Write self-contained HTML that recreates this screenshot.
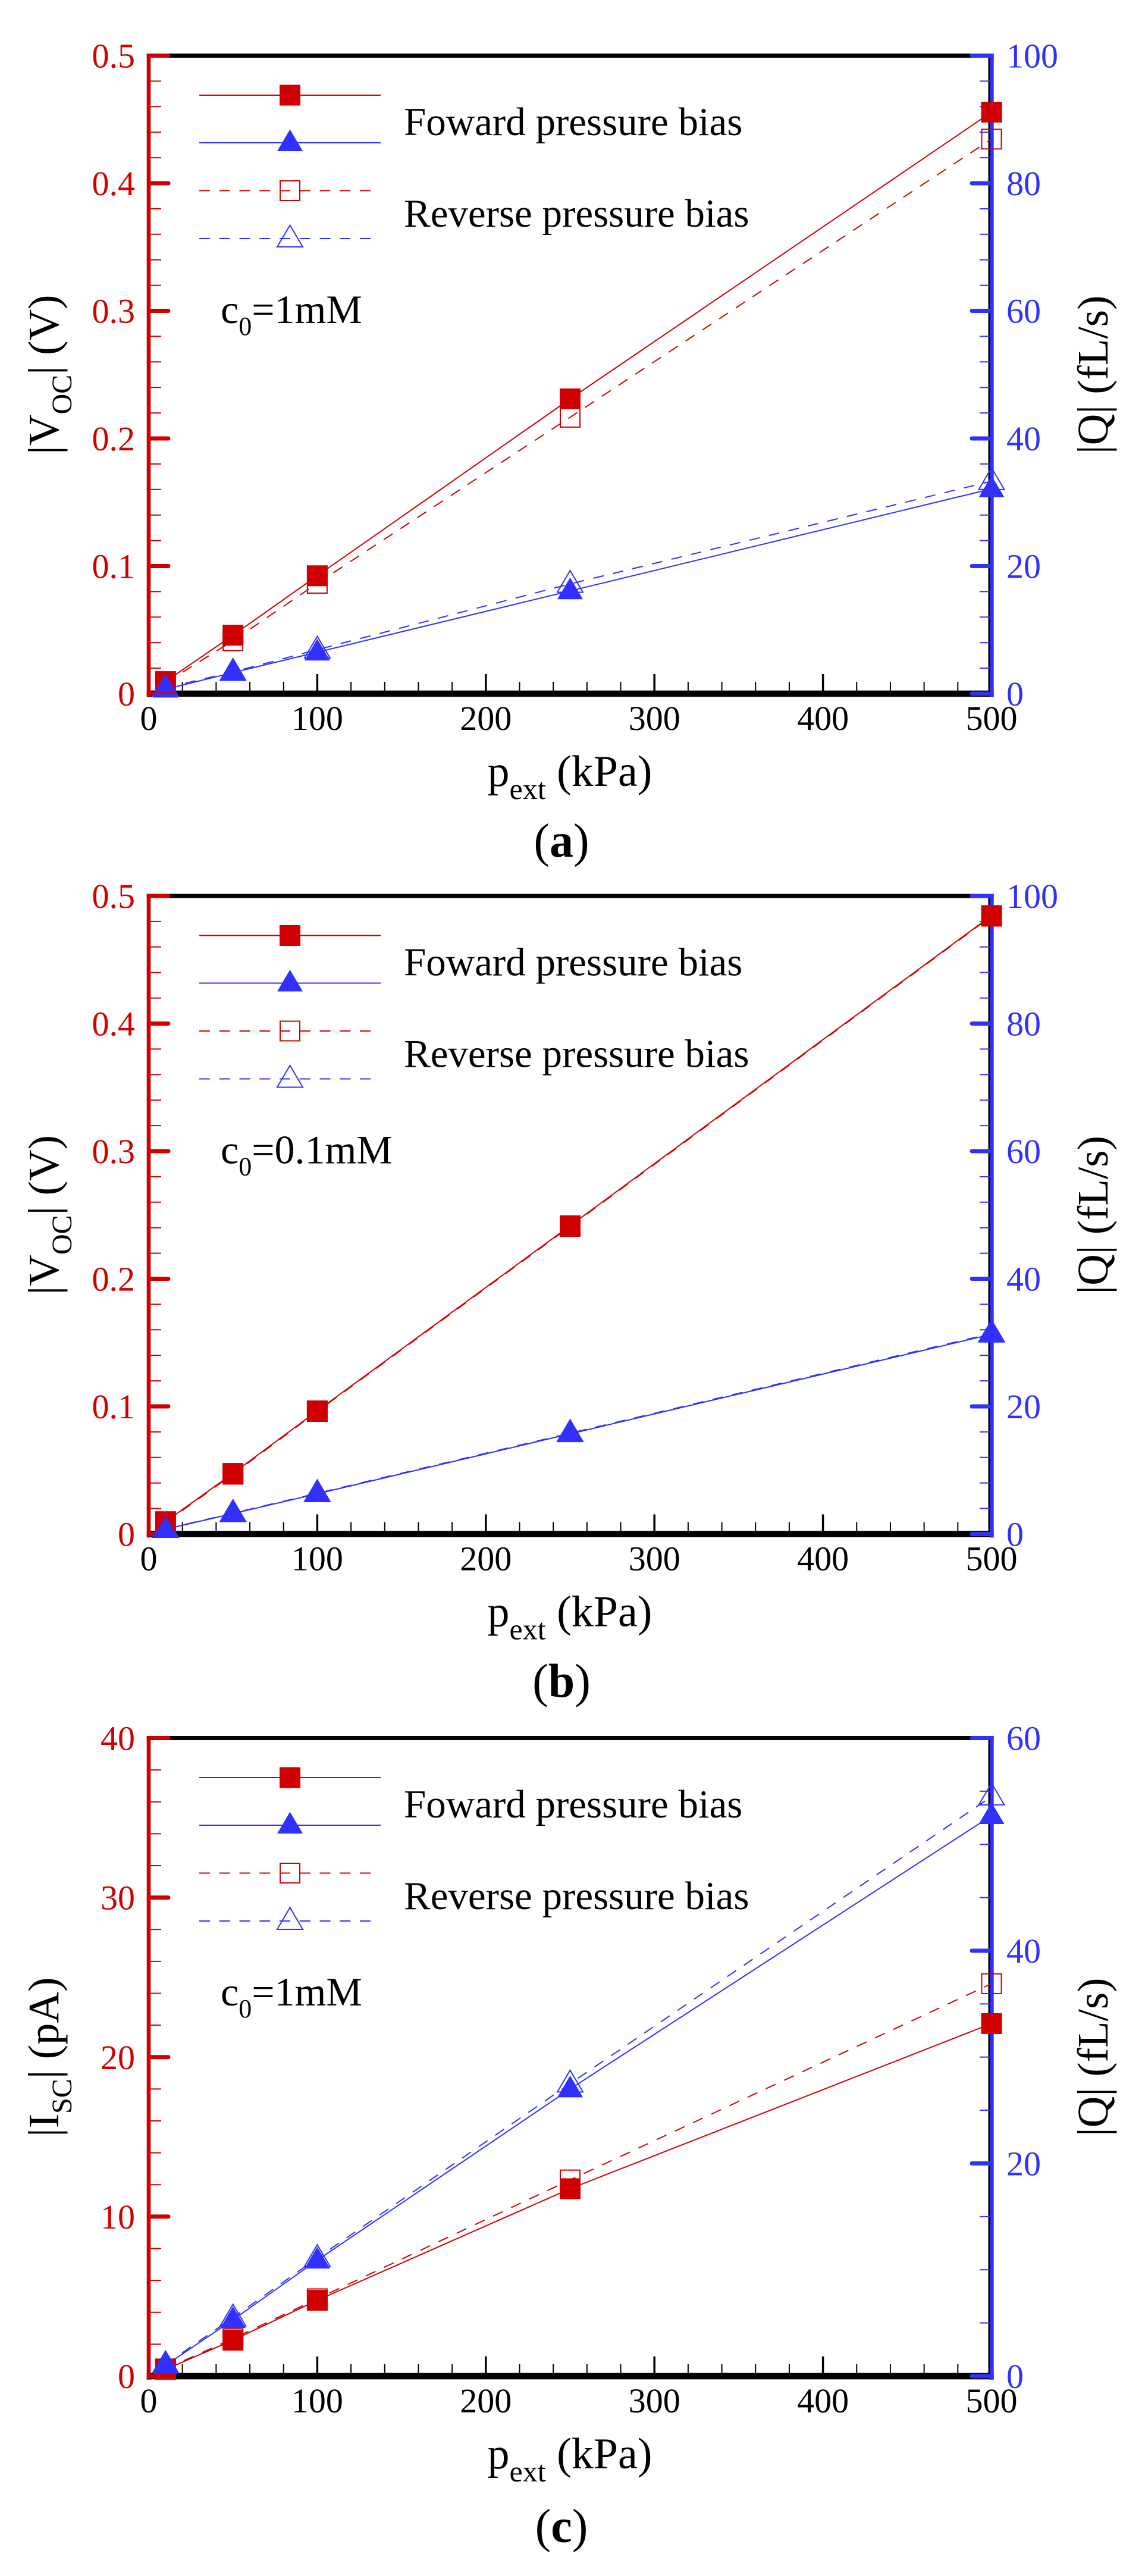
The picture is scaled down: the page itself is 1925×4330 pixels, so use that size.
<!DOCTYPE html>
<html><head><meta charset="utf-8"><style>
html,body{margin:0;padding:0;background:#fff;}
svg{display:block;}
text,tspan{font-family:"Liberation Serif","Times New Roman",serif;}
</style></head><body>
<svg xmlns="http://www.w3.org/2000/svg" width="1925" height="4330" viewBox="0 0 1925 4330" font-family="Liberation Serif, serif">
<defs>
<rect id="sqf" x="-17.5" y="-17.5" width="35" height="35" fill="#d00000"/>
<rect id="sqo" x="-16.5" y="-16.5" width="33" height="33" fill="none" stroke="#d00000" stroke-width="2"/>
<path id="trf" d="M0,-22.5 L21.5,14 L-21.5,14Z" fill="#3030ff"/>
<path id="tro" d="M0,-22.5 L21.5,14 L-21.5,14Z" fill="none" stroke="#3030ff" stroke-width="2"/>
<g id="frame">
<rect x="246.7" y="90" width="1424" height="7" fill="#000"/>
<rect x="246.7" y="1160.7" width="1424" height="10.7" fill="#000"/>
<rect x="1661.5" y="90" width="3" height="1081" fill="#000"/>
<line x1="249" y1="1153.5" x2="1669" y2="1153.5" stroke="#000" stroke-width="15" stroke-dasharray="2 54.68"/>
<path d="M533.4 1161V1133M816.8 1161V1133M1100.2 1161V1133M1383.6 1161V1133" stroke="#000" stroke-width="3.5"/>
<line x1="335" y1="160" x2="640" y2="160" stroke="#d00000" stroke-width="2"/>
<line x1="335" y1="240" x2="640" y2="240" stroke="#3030ff" stroke-width="2"/>
<line x1="335" y1="320.5" x2="623" y2="320.5" stroke="#d00000" stroke-width="2" stroke-dasharray="18 15.75"/>
<line x1="335" y1="401" x2="623" y2="401" stroke="#3030ff" stroke-width="2" stroke-dasharray="18 15.75"/>
<use href="#sqf" x="487.5" y="160"/>
<use href="#trf" x="487.5" y="240"/>
<use href="#sqo" x="487.5" y="320.5"/>
<use href="#tro" x="487.5" y="401"/>
</g>
<g id="axAB">
<line x1="262" y1="92.5" x2="262" y2="1167.5" stroke="#d00000" stroke-width="18" stroke-dasharray="2 40.9"/>
<path d="M253 93.5H283M253 308H283M253 522.5H283M253 737H283M253 951.5H283M253 1166H283" stroke="#d00000" stroke-width="7" stroke-linecap="round"/>
<rect x="246.7" y="90" width="6.6" height="1082" fill="#d00000"/>
<line x1="1655.5" y1="92.5" x2="1655.5" y2="1167.5" stroke="#3030ff" stroke-width="17" stroke-dasharray="2 40.9"/>
<path d="M1664 93.5H1634M1664 308H1634M1664 522.5H1634M1664 737H1634M1664 951.5H1634M1664 1166H1634" stroke="#3030ff" stroke-width="7" stroke-linecap="round"/>
<rect x="1664.3" y="90" width="6.4" height="1082" fill="#3030ff"/>
</g>
</defs>

<!-- Panel a -->
<g>
<use href="#frame"/>
<use href="#axAB"/>
<g font-size="58" text-anchor="middle" fill="#000">
<text x="250" y="1227">0</text><text x="533.4" y="1227">100</text><text x="816.8" y="1227">200</text><text x="1100.2" y="1227">300</text><text x="1383.6" y="1227">400</text><text x="1667" y="1227">500</text>
</g>
<text x="958" y="1321" text-anchor="middle" font-size="74">p<tspan font-size="50" dy="22">ext</tspan><tspan dy="-22"> (kPa)</tspan></text>
<text transform="translate(1862,629.75) rotate(-90)" text-anchor="middle" font-size="73">|Q| (fL/s)</text>
<text x="679" y="227" font-size="67">Foward pressure bias</text>
<text x="679" y="381" font-size="67">Reverse pressure bias</text>
<g font-size="58" fill="#d00000" text-anchor="end">
<text x="227" y="113.5">0.5</text><text x="227" y="328">0.4</text><text x="227" y="542.5">0.3</text><text x="227" y="757">0.2</text><text x="227" y="971.5">0.1</text><text x="227" y="1186">0</text>
</g>
<g font-size="58" fill="#3030ff">
<text x="1692" y="113.5">100</text><text x="1692" y="328">80</text><text x="1692" y="542.5">60</text><text x="1692" y="757">40</text><text x="1692" y="971.5">20</text><text x="1692" y="1186">0</text>
</g>
<text transform="translate(98,629.75) rotate(-90)" text-anchor="middle" font-size="73">|V<tspan font-size="48" dy="22">OC</tspan><tspan dy="-22">| (V)</tspan></text>
<polyline points="278.3,1145.6 391.7,1067.8 533.4,967.8 958.5,670.5 1667,188.5" fill="none" stroke="#d00000" stroke-width="2"/>
<polyline points="278.3,1147.8 391.7,1077 533.4,980.5 958.5,701.4 1667,233.8" fill="none" stroke="#d00000" stroke-width="2" stroke-dasharray="18 15.75"/>
<polyline points="278.3,1158.5 391.7,1130.6 533.4,1096.3 958.5,993.3 1667,821.7" fill="none" stroke="#3030ff" stroke-width="2"/>
<polyline points="278.3,1156.3 391.7,1129.5 533.4,1092 958.5,981.5 1667,808.9" fill="none" stroke="#3030ff" stroke-width="2" stroke-dasharray="18 15.75"/>
<use href="#sqf" x="278.3" y="1145.6"/><use href="#sqf" x="391.7" y="1067.8"/><use href="#sqf" x="533.4" y="967.8"/><use href="#sqf" x="958.5" y="670.5"/><use href="#sqf" x="1667" y="188.5"/>
<use href="#trf" x="278.3" y="1158.5"/><use href="#trf" x="391.7" y="1130.6"/><use href="#trf" x="533.4" y="1096.3"/><use href="#trf" x="958.5" y="993.3"/><use href="#trf" x="1667" y="821.7"/>
<use href="#sqo" x="278.3" y="1147.8"/><use href="#sqo" x="391.7" y="1077"/><use href="#sqo" x="533.4" y="980.5"/><use href="#sqo" x="958.5" y="701.4"/><use href="#sqo" x="1667" y="233.8"/>
<use href="#tro" x="278.3" y="1156.3"/><use href="#tro" x="391.7" y="1129.5"/><use href="#tro" x="533.4" y="1092"/><use href="#tro" x="958.5" y="981.5"/><use href="#tro" x="1667" y="808.9"/>
<text x="371" y="543" font-size="68">c<tspan font-size="44" dy="20">0</tspan><tspan dy="-20">=1mM</tspan></text>
<text x="944" y="1440" text-anchor="middle" font-size="80">(<tspan font-weight="bold">a</tspan>)</text>
</g>

<!-- Panel b -->
<g transform="translate(0,1412.5)">
<use href="#frame"/>
<use href="#axAB"/>
<g font-size="58" text-anchor="middle" fill="#000">
<text x="250" y="1227">0</text><text x="533.4" y="1227">100</text><text x="816.8" y="1227">200</text><text x="1100.2" y="1227">300</text><text x="1383.6" y="1227">400</text><text x="1667" y="1227">500</text>
</g>
<text x="958" y="1321" text-anchor="middle" font-size="74">p<tspan font-size="50" dy="22">ext</tspan><tspan dy="-22"> (kPa)</tspan></text>
<text transform="translate(1862,629.75) rotate(-90)" text-anchor="middle" font-size="73">|Q| (fL/s)</text>
<text x="679" y="227" font-size="67">Foward pressure bias</text>
<text x="679" y="381" font-size="67">Reverse pressure bias</text>
<g font-size="58" fill="#d00000" text-anchor="end">
<text x="227" y="113.5">0.5</text><text x="227" y="328">0.4</text><text x="227" y="542.5">0.3</text><text x="227" y="757">0.2</text><text x="227" y="971.5">0.1</text><text x="227" y="1186">0</text>
</g>
<g font-size="58" fill="#3030ff">
<text x="1692" y="113.5">100</text><text x="1692" y="328">80</text><text x="1692" y="542.5">60</text><text x="1692" y="757">40</text><text x="1692" y="971.5">20</text><text x="1692" y="1186">0</text>
</g>
<text transform="translate(98,629.75) rotate(-90)" text-anchor="middle" font-size="73">|V<tspan font-size="48" dy="22">OC</tspan><tspan dy="-22">| (V)</tspan></text>
<polyline points="278.3,1145.2 391.7,1064.1 533.4,959 958.5,647.8 1667,126.5" fill="none" stroke="#d00000" stroke-width="2"/>
<polyline points="278.3,1146.5 391.7,1065.5 533.4,960 958.5,649 1667,127.5" fill="none" stroke="#d00000" stroke-width="2" stroke-dasharray="18 15.75"/>
<polyline points="278.3,1158 391.7,1131.7 533.4,1098.4 958.5,997.6 1667,830.3" fill="none" stroke="#3030ff" stroke-width="2"/>
<polyline points="278.3,1157.5 391.7,1131 533.4,1097.5 958.5,996.5 1667,829" fill="none" stroke="#3030ff" stroke-width="2" stroke-dasharray="18 15.75"/>
<use href="#sqo" x="278.3" y="1146.5"/><use href="#sqo" x="391.7" y="1065.5"/><use href="#sqo" x="533.4" y="960"/><use href="#sqo" x="958.5" y="649"/><use href="#sqo" x="1667" y="127.5"/>
<use href="#tro" x="278.3" y="1157.5"/><use href="#tro" x="391.7" y="1131"/><use href="#tro" x="533.4" y="1097.5"/><use href="#tro" x="958.5" y="996.5"/><use href="#tro" x="1667" y="829"/>
<use href="#sqf" x="278.3" y="1145.2"/><use href="#sqf" x="391.7" y="1064.1"/><use href="#sqf" x="533.4" y="959"/><use href="#sqf" x="958.5" y="647.8"/><use href="#sqf" x="1667" y="126.5"/>
<use href="#trf" x="278.3" y="1158"/><use href="#trf" x="391.7" y="1131.7"/><use href="#trf" x="533.4" y="1098.4"/><use href="#trf" x="958.5" y="997.6"/><use href="#trf" x="1667" y="830.3"/>
<text x="371" y="543" font-size="68">c<tspan font-size="44" dy="20">0</tspan><tspan dy="-20">=0.1mM</tspan></text>
<text x="944" y="1440" text-anchor="middle" font-size="80">(<tspan font-weight="bold">b</tspan>)</text>
</g>

<!-- Panel c -->
<g transform="translate(0,2828)">
<use href="#frame"/>
<line x1="262" y1="92.5" x2="262" y2="1167.5" stroke="#d00000" stroke-width="18" stroke-dasharray="2 51.625"/>
<path d="M253 93.5H283M253 361.6H283M253 629.75H283M253 897.9H283M253 1166H283" stroke="#d00000" stroke-width="7" stroke-linecap="round"/>
<rect x="246.7" y="90" width="6.6" height="1082" fill="#d00000"/>
<line x1="1655.5" y1="92.5" x2="1655.5" y2="1167.5" stroke="#3030ff" stroke-width="17" stroke-dasharray="2 87.375"/>
<path d="M1664 93.5H1634M1664 451H1634M1664 808.5H1634M1664 1166H1634" stroke="#3030ff" stroke-width="7" stroke-linecap="round"/>
<rect x="1664.3" y="90" width="6.4" height="1082" fill="#3030ff"/>
<g font-size="58" text-anchor="middle" fill="#000">
<text x="250" y="1227">0</text><text x="533.4" y="1227">100</text><text x="816.8" y="1227">200</text><text x="1100.2" y="1227">300</text><text x="1383.6" y="1227">400</text><text x="1667" y="1227">500</text>
</g>
<text x="958" y="1321" text-anchor="middle" font-size="74">p<tspan font-size="50" dy="22">ext</tspan><tspan dy="-22"> (kPa)</tspan></text>
<text transform="translate(1862,629.75) rotate(-90)" text-anchor="middle" font-size="73">|Q| (fL/s)</text>
<text x="679" y="227" font-size="67">Foward pressure bias</text>
<text x="679" y="381" font-size="67">Reverse pressure bias</text>
<g font-size="58" fill="#d00000" text-anchor="end">
<text x="227" y="113.5">40</text><text x="227" y="381.6">30</text><text x="227" y="649.75">20</text><text x="227" y="917.9">10</text><text x="227" y="1186">0</text>
</g>
<g font-size="58" fill="#3030ff">
<text x="1692" y="113.5">60</text><text x="1692" y="471">40</text><text x="1692" y="828.5">20</text><text x="1692" y="1186">0</text>
</g>
<text transform="translate(98,629.75) rotate(-90)" text-anchor="middle" font-size="73">|I<tspan font-size="48" dy="22">SC</tspan><tspan dy="-22">| (pA)</tspan></text>
<polyline points="278.3,1154.7 391.7,1105.7 533.4,1038.6 958.5,851 1667,573.4" fill="none" stroke="#d00000" stroke-width="2"/>
<polyline points="278.3,1153.9 391.7,1103 533.4,1036 958.5,836.2 1667,506.4" fill="none" stroke="#d00000" stroke-width="2" stroke-dasharray="18 15.75"/>
<polyline points="278.3,1148.1 391.7,1071.3 533.4,971.2 958.5,683.4 1667,224" fill="none" stroke="#3030ff" stroke-width="2"/>
<polyline points="278.3,1146.3 391.7,1067.7 533.4,967.6 958.5,674.4 1667,191.8" fill="none" stroke="#3030ff" stroke-width="2" stroke-dasharray="18 15.75"/>
<use href="#sqo" x="278.3" y="1153.9"/><use href="#sqo" x="391.7" y="1103"/><use href="#sqo" x="533.4" y="1036"/><use href="#sqo" x="958.5" y="836.2"/><use href="#sqo" x="1667" y="506.4"/>
<use href="#sqf" x="278.3" y="1154.7"/><use href="#sqf" x="391.7" y="1105.7"/><use href="#sqf" x="533.4" y="1038.6"/><use href="#sqf" x="958.5" y="851"/><use href="#sqf" x="1667" y="573.4"/>
<use href="#trf" x="278.3" y="1148.1"/><use href="#trf" x="391.7" y="1071.3"/><use href="#trf" x="533.4" y="971.2"/><use href="#trf" x="958.5" y="683.4"/><use href="#trf" x="1667" y="224"/>
<use href="#tro" x="278.3" y="1146.3"/><use href="#tro" x="391.7" y="1067.7"/><use href="#tro" x="533.4" y="967.6"/><use href="#tro" x="958.5" y="674.4"/><use href="#tro" x="1667" y="191.8"/>
<text x="371" y="543" font-size="68">c<tspan font-size="44" dy="20">0</tspan><tspan dy="-20">=1mM</tspan></text>
<text x="944" y="1445" text-anchor="middle" font-size="80">(<tspan font-weight="bold">c</tspan>)</text>
</g>
</svg>
</body></html>
